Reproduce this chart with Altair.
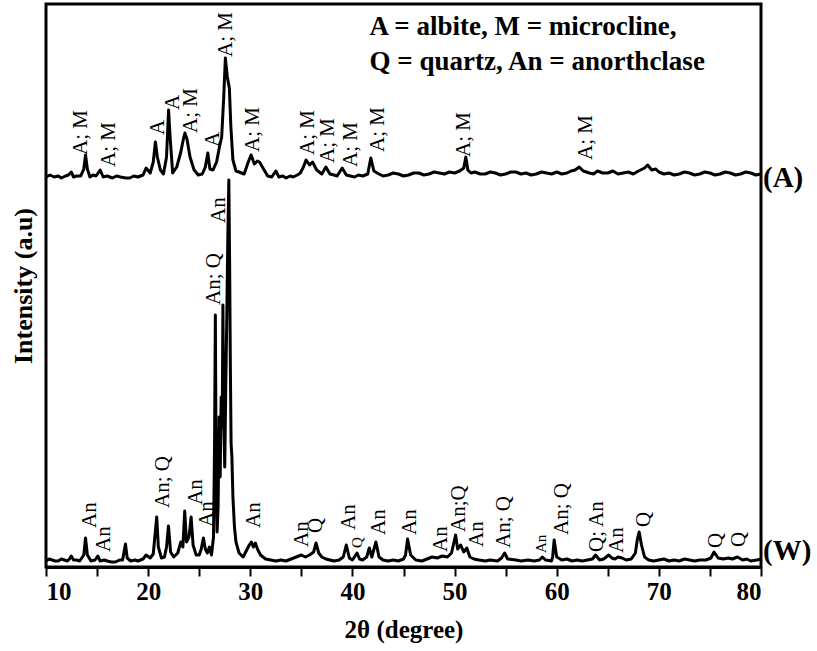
import altair as alt
import pandas as pd

# Diffraction trace of sample (A), stacked above (W); intensity in arbitrary units
two_theta_A = [10.0, 10.4, 10.8, 11.2, 11.5, 11.9, 12.2, 12.47, 12.7, 13.0, 13.4, 13.7, 13.87, 14.05,
               14.3, 14.6, 14.9, 15.3, 15.6, 16.0, 16.5, 16.9, 17.3, 17.8, 18.2, 18.6, 19.0, 19.5,
               19.8, 20.2, 20.5, 20.71, 20.9, 21.2, 21.5, 21.8, 22.0, 22.15, 22.4, 22.8, 23.2, 23.45,
               23.6, 23.8, 24.1, 24.5, 24.9, 25.3, 25.6, 25.84, 26.05, 26.35, 26.7, 26.98, 27.2, 27.4,
               27.56, 27.75, 27.95, 28.1, 28.3, 28.6, 28.9, 29.4, 29.8, 30.08, 30.4, 30.7, 30.9, 31.3,
               31.7, 32.1, 32.5, 32.8, 33.2, 33.5, 33.9, 34.2, 34.6, 34.9, 35.2, 35.46, 35.8, 36.1,
               36.5, 37.0, 37.4, 37.8, 38.2, 38.5, 39.0, 39.4, 39.8, 40.2, 40.6, 41.0, 41.5, 41.8,
               42.1, 42.6, 43.0, 43.5, 44.0, 44.5, 45.0, 45.5, 46.0, 46.5, 47.0, 47.5, 48.0, 48.5,
               49.0, 49.5, 50.0, 50.5, 50.9, 51.1, 51.3, 51.6, 52.0, 52.5, 53.0, 53.5, 54.0, 54.5,
               55.0, 55.5, 56.0, 56.5, 57.0, 57.5, 58.0, 58.5, 59.0, 59.5, 60.0, 60.5, 61.0, 61.4,
               61.8, 62.2, 62.6, 63.2, 63.6, 64.0, 64.5, 65.0, 65.5, 66.0, 66.5, 67.0, 67.5, 68.0,
               68.6, 68.9, 69.3, 69.7, 70.0, 70.5, 71.0, 71.5, 72.0, 72.5, 73.0, 73.5, 74.0, 74.5,
               75.0, 75.5, 76.0, 76.5, 77.0, 77.5, 78.0, 78.5, 79.0, 79.5, 80.0]
intensity_A = [390, 392, 390, 391, 389, 391, 392, 395, 390, 391, 391, 398, 412, 398,
               390, 392, 391, 397, 390, 391, 389, 391, 390, 389, 389, 391, 390, 392,
               399, 394, 405, 425, 410, 397, 393, 410, 457, 430, 394, 400, 415, 428,
               434, 428, 410, 397, 392, 393, 400, 414, 398, 397, 405, 420, 430, 470,
               509, 490, 479, 440, 407, 396, 395, 393, 405, 412, 403, 406, 405, 398,
               391, 390, 396, 390, 391, 389, 391, 390, 392, 394, 400, 407, 402, 405,
               397, 393, 400, 393, 392, 391, 399, 392, 391, 390, 392, 391, 393, 409,
               396, 393, 391, 392, 394, 393, 391, 392, 394, 394, 392, 393, 395, 394,
               393, 395, 394, 396, 399, 410, 397, 394, 395, 393, 393, 395, 394, 392,
               393, 395, 395, 393, 394, 392, 393, 395, 394, 393, 395, 393, 394, 396,
               397, 400, 396, 394, 393, 396, 394, 394, 396, 393, 394, 395, 393, 396,
               399, 402, 397, 398, 395, 393, 394, 392, 393, 395, 394, 392, 393, 395,
               394, 392, 393, 395, 394, 392, 393, 395, 394, 392, 393]

two_theta_W = [10.0, 10.3, 10.6, 10.9, 11.2, 11.5, 11.8, 12.1, 12.3, 12.47, 12.7, 13.0, 13.3, 13.7,
               13.87, 14.05, 14.4, 14.8, 15.07, 15.3, 15.7, 16.0, 16.4, 16.8, 17.2, 17.5, 17.78, 17.95,
               18.3, 18.7, 19.0, 19.5, 19.8, 20.2, 20.5, 20.84, 21.0, 21.3, 21.6, 21.8, 21.99, 22.2,
               22.5, 22.9, 23.2, 23.4, 23.58, 23.75, 24.0, 24.21, 24.4, 24.7, 25.0, 25.2, 25.41, 25.6,
               25.8, 26.0, 26.2, 26.4, 26.5, 26.58, 26.66, 26.75, 26.85, 26.95, 27.05, 27.15, 27.25, 27.32,
               27.4, 27.5, 27.6, 27.7, 27.8, 27.9, 27.98, 28.05, 28.12, 28.2, 28.3, 28.45, 28.6, 28.9,
               29.3, 29.7, 29.9, 30.1, 30.3, 30.5, 30.7, 31.0, 31.5, 32.0, 32.5, 33.0, 33.5, 34.0,
               34.5, 35.0, 35.4, 35.8, 36.2, 36.44, 36.7, 37.0, 37.4, 37.8, 38.2, 38.7, 39.1, 39.4,
               39.7, 40.0, 40.45, 40.7, 41.0, 41.4, 41.65, 41.9, 42.3, 42.6, 43.0, 43.5, 44.0, 44.5,
               45.0, 45.2, 45.4, 45.7, 46.2, 46.8, 47.3, 47.8, 48.3, 48.8, 49.3, 49.7, 50.1, 50.3,
               50.6, 50.9, 51.2, 51.5, 51.9, 52.4, 53.0, 53.5, 54.2, 54.6, 54.9, 55.2, 56.0, 56.5,
               57.2, 57.8, 58.3, 58.6, 58.9, 59.5, 59.6, 59.75, 60.0, 60.5, 61.0, 61.5, 62.0, 62.5,
               63.0, 63.5, 63.8, 64.2, 64.6, 65.1, 65.4, 65.7, 66.0, 66.4, 66.8, 67.3, 67.7, 67.9,
               68.07, 68.3, 68.6, 69.0, 69.5, 70.0, 70.5, 71.0, 71.5, 72.0, 72.5, 73.0, 73.5, 74.0,
               74.6, 75.1, 75.4, 75.8, 76.3, 76.8, 77.2, 77.7, 78.2, 78.6, 79.0, 79.6, 80.0]
intensity_W = [6, 8, 7, 6, 6, 8, 7, 6, 8, 11, 7, 7, 6, 12,
               29, 12, 6, 7, 11, 6, 7, 6, 5, 5, 7, 7, 23, 9,
               6, 7, 6, 8, 12, 9, 13, 50, 20, 9, 10, 20, 41, 15,
               10, 14, 25, 20, 56, 25, 30, 50, 22, 12, 12, 18, 29, 18,
               14, 20, 12, 30, 120, 252, 90, 35, 60, 150, 90, 170, 140, 262,
               150, 100, 180, 250, 330, 387, 300, 200, 124, 110, 70, 40, 25, 14,
               10, 18, 22, 25, 20, 24, 18, 12, 8, 7, 6, 7, 6, 8,
               10, 12, 10, 12, 15, 24, 14, 10, 8, 7, 6, 7, 10, 22,
               9, 7, 14, 8, 7, 10, 19, 10, 25, 10, 7, 6, 7, 6,
               8, 12, 28, 12, 7, 6, 8, 10, 9, 11, 10, 14, 32, 18,
               22, 15, 19, 10, 8, 7, 6, 7, 6, 9, 14, 8, 7, 6,
               7, 6, 7, 10, 7, 6, 10, 27, 10, 7, 8, 6, 7, 6,
               7, 8, 12, 7, 8, 12, 9, 8, 10, 9, 7, 8, 14, 28,
               35, 22, 10, 7, 6, 7, 8, 6, 7, 6, 8, 7, 6, 7,
               7, 9, 15, 9, 8, 9, 8, 10, 7, 8, 6, 7, 8]

# Phase assignments written beside the peaks
labels_A = ["A; M", "A; M", "A", "A", "A; M", "A", "A; M", "A; M", "A; M", "A; M",
            "A; M", "A; M", "A; M", "A; M"]
label_pos_A = [13.44, 16.21, 20.94, 22.41, 24.21, 26.32, 27.63, 30.24, 35.62, 37.57,
               39.86, 42.47, 50.95, 62.86]
label_base_A = [412, 400, 432, 457, 434, 420, 510, 415, 412, 404, 400, 415, 410, 407]

labels_W = ["An", "An", "An; Q", "An", "An", "An; Q", "An", "An", "An", "Q", "An", "Q",
            "An", "An", "An", "An;Q", "An", "An; Q", "An", "An; Q", "Q; An", "An", "Q",
            "Q", "Q"]
label_pos_W = [14.26, 15.72, 21.43, 24.7, 25.8, 26.49, 26.98, 30.4, 35.1, 36.44, 39.7, 40.48,
               42.63, 45.67, 48.67, 50.46, 52.22, 54.86, 58.45, 60.54, 63.96, 65.92, 68.58,
               75.63, 77.88]
label_base_W = [39, 15, 59, 62, 40, 262, 344, 39, 20, 34, 37, 19, 32, 32, 15, 35, 20, 19,
                14, 32, 15, 14, 40, 19, 20]
label_size_W = [21, 21, 21, 21, 21, 21, 21, 21, 21, 21, 21, 15, 21, 21, 21, 21, 21, 21,
                15, 21, 21, 21, 21, 21, 21]

key_lines = ["A = albite, M = microcline,", "Q = quartz, An = anorthclase"]
key_base = [532, 497]

sample_names = ["(A)", "(W)"]
sample_level = [389, 16]

FONT = "Liberation Serif"

trace = pd.concat([
    pd.DataFrame({"two_theta": two_theta_A, "intensity": intensity_A, "sample": "A"}),
    pd.DataFrame({"two_theta": two_theta_W, "intensity": intensity_W, "sample": "W"}),
])
peaks = pd.concat([
    pd.DataFrame({"two_theta": label_pos_A, "intensity": label_base_A, "text": labels_A,
                  "fs": 21}),
    pd.DataFrame({"two_theta": label_pos_W, "intensity": label_base_W, "text": labels_W,
                  "fs": label_size_W}),
])
key = pd.DataFrame({"two_theta": [41.68, 41.68], "intensity": key_base, "text": key_lines})
names = pd.DataFrame({"two_theta": [80, 80], "intensity": sample_level, "text": sample_names})

x_enc = alt.X(
    "two_theta:Q",
    scale=alt.Scale(domain=[10, 80], nice=False, zero=False),
    axis=alt.Axis(
        values=list(range(10, 81, 5)),
        labelExpr="datum.value % 10 === 0 ? datum.label : ''",
        title="2θ (degree)",
        grid=False,
        tickSize=9,
        tickWidth=2,
        labelPadding=3,
        titlePadding=13,
    ),
)
y_enc = alt.Y(
    "intensity:Q",
    scale=alt.Scale(domain=[0, 563], nice=False, zero=False),
    axis=alt.Axis(labels=False, ticks=False, domain=False, grid=False,
                  title="Intensity (a.u)", titlePadding=10, titleFontSize=26),
)

lines = alt.Chart(trace).mark_line(color="black", strokeWidth=3, strokeJoin="round").encode(
    x=x_enc, y=y_enc, detail="sample:N"
)

peak_text = alt.Chart(peaks).mark_text(
    angle=270, align="left", baseline="middle", font=FONT, color="black"
).encode(
    x="two_theta:Q", y="intensity:Q", text="text:N",
    size=alt.Size("fs:Q", scale=None, legend=None),
)

key_text = alt.Chart(key).mark_text(
    align="left", baseline="alphabetic", font=FONT, fontWeight="bold", fontSize=27, color="black"
).encode(x="two_theta:Q", y="intensity:Q", text="text:N")

name_text = alt.Chart(names).mark_text(
    align="left", baseline="middle", font=FONT, fontWeight="bold", fontSize=29, dx=2,
    color="black"
).encode(x="two_theta:Q", y="intensity:Q", text="text:N")

chart = alt.layer(lines, peak_text, key_text, name_text).properties(
    width=715,
    height=563,
    autosize=alt.AutoSizeParams(type="none"),
    padding={"left": 46, "top": 4, "right": 56, "bottom": 84},
).configure_view(
    stroke="black", strokeWidth=3
).configure_axis(
    domainColor="black", domainWidth=3, tickColor="black",
    labelFont=FONT, labelFontSize=25, labelFontWeight="bold", labelColor="black",
    titleFont=FONT, titleFontSize=25, titleFontWeight="bold", titleColor="black",
)

chart.save("out.html", embed_options={"renderer": "svg", "actions": False})
